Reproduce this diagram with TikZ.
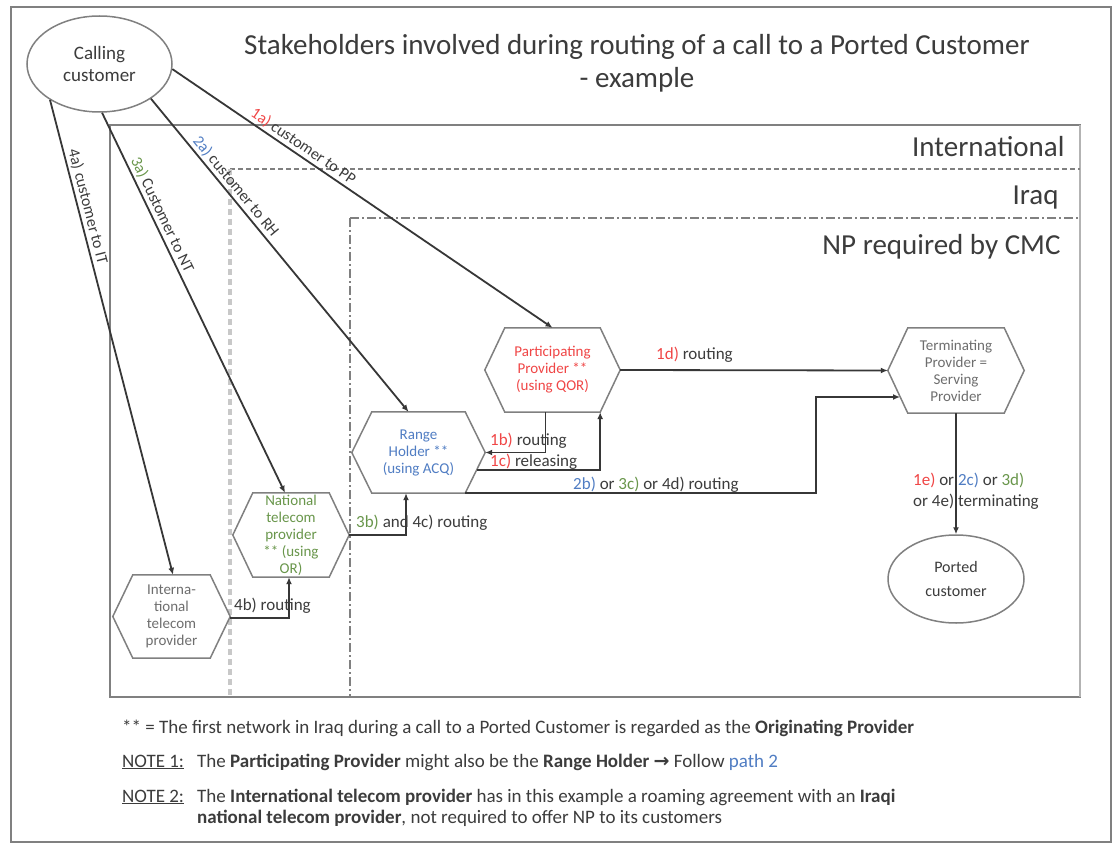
\documentclass[tikz,border=0pt]{standalone}
\usepackage{fontspec}
\setmainfont{Carlito}
\newfontfamily\djv{DejaVu Sans}
\usetikzlibrary{shapes.geometric,arrows.meta,calc}
\definecolor{cred}{RGB}{240,70,70}
\definecolor{cblue}{RGB}{80,125,195}
\definecolor{cgreen}{RGB}{105,150,75}
\definecolor{ctext}{RGB}{60,60,60}
\definecolor{cgraytext}{RGB}{110,110,110}
\definecolor{cframe}{RGB}{128,128,128}
\definecolor{cline}{RGB}{55,55,55}
\definecolor{cdot}{RGB}{200,200,200}
\tikzset{
  hexbox/.style={inner sep=0pt, align=center, font=\fontsize{15}{17}\selectfont},
  hexline/.style={draw=cframe, line width=1.5pt},
  conn/.style={draw=cline, line width=1.8pt, -{Latex[length=7pt,width=6pt]}},
  lbl/.style={font=\fontsize{17}{20}\selectfont, text=ctext, inner sep=1pt},
  diag/.style={font=\fontsize{16}{19}\selectfont, text=ctext, inner sep=2pt, sloped, above},
  region/.style={font=\fontsize{29}{33}\selectfont, text=ctext, anchor=east},
  oval/.style={ellipse, draw=cframe, line width=1.5pt, align=center, inner sep=0pt, text=ctext},
  foot/.style={font=\fontsize{19}{21}\selectfont, text=ctext, inner sep=0pt, anchor=base west},
}
\newcommand{\hexout}[1]{\draw[hexline] (#1.west) -- ([xshift=20pt]#1.north west) -- ([xshift=-20pt]#1.north east) -- (#1.east) -- ([xshift=-20pt]#1.south east) -- ([xshift=20pt]#1.south west) -- cycle;}
\begin{document}
\begin{tikzpicture}[x=1pt,y=-1pt]
\useasboundingbox (0,0) rectangle (1114,845);
\fill[white] (0,0) rectangle (1114,845);
% outer frame
\draw[cframe, line width=2pt] (11,7) rectangle (1111,842);
% title
\node[font=\fontsize{29}{33}\selectfont, text=ctext, align=center] (title) at (637,63) {Stakeholders involved during routing of a call to a Ported Customer\\- example};
% regions
\draw[cframe, line width=2.5pt] (110,125) rectangle (1080,697);
\draw[cframe!60, line width=2pt] (1080,125) -- (1080,697);
\node[region] (intl) at (1068,147) {International};
\draw[cframe, line width=1.3pt, dash pattern=on 5pt off 3pt] (230,169) -- (1080,169);
\draw[cdot, line width=4pt, dash pattern=on 6pt off 4pt] (230,169) -- (230,697);
\node[region] (iraq) at (1062,198) {Iraq};
\draw[cframe, line width=1.3pt, dash pattern=on 9pt off 3pt on 2pt off 3pt] (350,218) -- (1080,218);
\draw[cframe, line width=1.3pt, dash pattern=on 9pt off 3pt on 2pt off 3pt] (350,218) -- (350,697);
\node[region] (np) at (1064,247) {NP required by CMC};
% nodes
\node[oval, minimum width=145pt, minimum height=96pt, font=\fontsize{19}{22}\selectfont] (cc) at (99.5,64) {Calling\\customer};
\node[oval, minimum width=136pt, minimum height=88pt, font=\fontsize{16}{24}\selectfont] (pc) at (956,579) {Ported\\customer};
\node[hexbox, minimum width=135pt, minimum height=84pt, text=cred] (pp) at (552.5,370) {Participating\\Provider **\\(using QOR)};
\hexout{pp}
\node[hexbox, minimum width=133pt, minimum height=81pt, text=cblue] (rh) at (418.5,452.5) {Range\\Holder **\\(using ACQ)};
\hexout{rh}
\node[hexbox, minimum width=136pt, minimum height=85pt, text=cgraytext] (tp) at (956,370.5) {Terminating\\Provider =\\Serving\\Provider};
\hexout{tp}
\node[hexbox, minimum width=116pt, minimum height=84pt, text=cgreen] (nt) at (291,535) {National\\telecom\\provider\\** (using\\OR)};
\hexout{nt}
\node[hexbox, minimum width=117pt, minimum height=83pt, text=cgraytext] (it) at (171.5,616.5) {Interna-\\tional\\telecom\\provider};
\hexout{it}
% helper coordinates on hexagon borders
\coordinate (rh1c) at (477,470);
\coordinate (rhc) at ([xshift=-20pt]rh.south east);
\coordinate (tp2b) at (900,397);
% diagonal connectors
\draw[conn] (cc.-4) -- node[diag, pos=0.33] {\textcolor{cred}{1a)} customer to PP} (pp.north);
\draw[conn] (cc.-34) -- node[diag, pos=0.30] {\textcolor{cblue}{2a)} customer to RH} ([xshift=-10pt]rh.north);
\draw[conn] (cc.-87) -- node[diag, pos=0.28] {\textcolor{cgreen}{3a)} Customer to NT} ([xshift=-6pt]nt.north);
\draw[conn] (cc.-144) -- node[diag, pos=0.23] {4a) customer to IT} ([xshift=1.5pt]it.north);
% routing connectors
\draw[conn] ([xshift=-7pt]pp.south) |- (rh.east);
\draw[conn] (rh1c) -| ([xshift=-20pt]pp.south east);
\draw[conn] (pp.east) -- (tp.west);
\draw[conn] (rhc) -| ([xshift=-84pt]tp2b) -- (tp2b);
\draw[conn] (nt.east) -| ([xshift=-12.5pt]rh.south);
\draw[conn] ([yshift=-1.5pt]it.east) -| ([xshift=-2pt]nt.south);
\draw[conn] (tp.south) -- (pc.north);
% labels
\node[lbl, anchor=west] (l1b) at (489,441) {\textcolor{cred}{1b)} routing};
\node[lbl, anchor=west] (l1c) at (489,462) {\textcolor{cred}{1c)} releasing};
\node[lbl, anchor=west] (l1d) at (655,355) {\textcolor{cred}{1d)} routing};
\node[lbl, anchor=west] (l2b) at (572,485) {\textcolor{cblue}{2b)} or \textcolor{cgreen}{3c)} or 4d) routing};
\node[lbl, anchor=west] (l3b) at (355,523) {\textcolor{cgreen}{3b)} and 4c) routing};
\node[lbl, anchor=west] (l4b) at (233,606) {4b) routing};
\node[lbl, anchor=west] (l1e) at (912,480) {\textcolor{cred}{1e)} or \textcolor{cblue}{2c)} or \textcolor{cgreen}{3d)}};
\node[lbl, anchor=west] (l4e) at (912,502) {or 4e) terminating};
% footnotes
\node[foot] (f1) at (122,733) {** = The first network in Iraq during a call to a Ported Customer is regarded as the \textbf{Originating Provider}};
\node[foot] (n1) at (122,767) {\underline{NOTE 1:}};
\node[foot] (n1t) at (197,767) {The \textbf{Participating Provider} might also be the \textbf{Range Holder} {\djv\bfseries →} Follow \textcolor{cblue}{path 2}};
\node[foot] (n2) at (122,802) {\underline{NOTE 2:}};
\node[foot] (n2t) at (197,802) {The \textbf{International telecom provider} has in this example a roaming agreement with an \textbf{Iraqi}};
\node[foot] (n2u) at (197,823) {\textbf{national telecom provider}, not required to offer NP to its customers};
\end{tikzpicture}
\end{document}
